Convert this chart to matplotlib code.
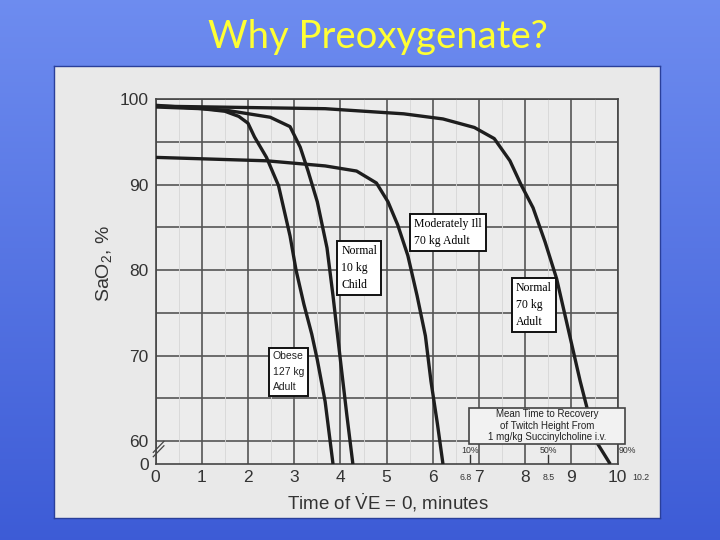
import matplotlib
matplotlib.use("Agg")
import matplotlib.pyplot as plt
from matplotlib.patches import Rectangle
import numpy as np

plt.rcParams['font.family'] = ['Liberation Sans', 'DejaVu Sans']
plt.rcParams['mathtext.fontset'] = 'custom'
plt.rcParams['mathtext.rm'] = 'Liberation Sans'
plt.rcParams['mathtext.it'] = 'Liberation Sans:italic'

# desaturation curves: time (min) vs SaO2 (%); 57.3 = bottom of broken axis ("0")
obese_t = [0, 1.0, 1.5, 1.8, 2.0, 2.14, 2.4, 2.66, 2.91, 3.04, 3.21, 3.38, 3.5, 3.67, 3.84]
obese_s = [99.1, 98.9, 98.6, 98.0, 97.2, 95.6, 93.2, 89.9, 84.0, 80.0, 76.0, 72.5, 69.5, 64.6, 57.3]

child_t = [0, 1.55, 2.48, 2.91, 3.13, 3.30, 3.5, 3.71, 3.84, 4.01, 4.14, 4.27]
child_s = [99.3, 98.7, 97.9, 96.8, 94.4, 91.6, 88.0, 82.6, 77.0, 69.0, 63.0, 57.3]

ill_t = [0, 2.40, 3.67, 4.35, 4.78, 5.03, 5.24, 5.46, 5.66, 5.84, 5.96, 6.10, 6.22]
ill_s = [93.2, 92.8, 92.2, 91.6, 90.2, 88.0, 85.3, 81.7, 77.0, 72.3, 67.0, 62.0, 57.3]

adult_t = [0, 3.67, 5.37, 6.22, 6.90, 7.33, 7.67, 7.91, 8.17, 8.43, 8.68, 8.85, 9.02, 9.19, 9.36, 9.53, 9.84]
adult_s = [99.2, 98.9, 98.3, 97.7, 96.7, 95.4, 92.8, 90.0, 87.3, 83.3, 79.0, 75.0, 71.0, 67.0, 63.4, 60.0, 57.3]

y_bottom = 57.3
ytick_vals = [y_bottom, 60, 70, 80, 90, 100]
ytick_labels = ['0', '60', '70', '80', '90', '100']
xtick_vals = list(range(0, 11))

# succinylcholine recovery percentiles
recov_pct = ['10%', '50%', '90%']
recov_time = [6.8, 8.5, 10.2]
recov_text = ['6.8', '8.5', '10.2']
recov_text_shift = [-0.08, 0.0, 0.3]

fig = plt.figure(figsize=(7.2, 5.4), dpi=100)

# slide background gradient
bg = fig.add_axes([0, 0, 1, 1], zorder=-10)
grad = np.linspace(0, 1, 256).reshape(-1, 1)
top_c = np.array([0.43, 0.55, 0.94])
bot_c = np.array([0.24, 0.36, 0.84])
img = top_c + (bot_c - top_c) * grad[:, :, None]
bg.imshow(img, aspect='auto', extent=[0, 1, 0, 1])
bg.axis('off')

fig.text(378 / 720, 1 - 37 / 540, 'Why Preoxygenate?', color='#ffff33',
         fontsize=27.5, family='Lato', ha='center', va='center')

# the scanned figure area
paper = fig.add_axes([54 / 720, 22 / 540, 606 / 720, 452 / 540], zorder=-5)
paper.set_facecolor('#e9e9e9')
paper.set_xticks([])
paper.set_yticks([])
for s in paper.spines.values():
    s.set_color('#2a3f9a')
    s.set_linewidth(1)

ax = fig.add_axes([155.6 / 720, 76 / 540, 462 / 720, 364.7 / 540])
ax.set_facecolor('#ececec')
ax.set_xlim(0, 10)
ax.set_ylim(y_bottom, 100)

ax.set_xticks(xtick_vals)
ax.set_xticks(np.arange(0, 10.01, 0.5), minor=True)
ax.set_yticks(ytick_vals)
ax.set_yticklabels(ytick_labels)
ax.tick_params(which='both', length=0)
ax.tick_params(axis='both', labelsize=12.5, labelcolor='#333333')
ax.tick_params(axis='y', pad=5)
ax.tick_params(axis='x', pad=4)

for v in np.arange(0, 10.01, 1):
    ax.axvline(v, color='#555555', lw=1.2, zorder=1)
for v in np.arange(60, 100.1, 5):
    ax.axhline(v, color='#555555', lw=1.2, zorder=1)
ax.grid(which='minor', axis='x', color='#d6d6d6', lw=0.6, zorder=0)
for s in ax.spines.values():
    s.set_color('#444444')
    s.set_linewidth(1.2)

curve_kw = dict(color='#1e1e1e', lw=2.4, solid_capstyle='butt', solid_joinstyle='round', zorder=3)
ax.plot(obese_t, obese_s, **curve_kw)
ax.plot(child_t, child_s, **curve_kw)
ax.plot(ill_t, ill_s, **curve_kw)
ax.plot(adult_t, adult_s, **curve_kw)

box_kw = dict(boxstyle='square,pad=0.35', fc='white', ec='#111111', lw=1.4)
ax.text(6.33, 84.4, 'Moderately Ill\n70 kg Adult', family='Liberation Serif',
        fontsize=8.5, ha='center', va='center', ma='left', linespacing=1.5,
        bbox=box_kw, zorder=5)
ax.text(4.41, 80.25, 'Normal\n10 kg\nChild', family='Liberation Serif',
        fontsize=8.5, ha='center', va='center', ma='left', linespacing=1.55,
        bbox=box_kw, zorder=5)
ax.text(8.19, 75.9, 'Normal\n70 kg\nAdult', family='Liberation Serif',
        fontsize=8.5, ha='center', va='center', ma='left', linespacing=1.55,
        bbox=box_kw, zorder=5)
ax.text(2.88, 68.1, 'Obese\n127 kg\nAdult', fontsize=7.5, color='#222222',
        ha='center', va='center', ma='left', linespacing=1.7,
        bbox=box_kw, zorder=5)

# recovery-time note box
ax.add_patch(Rectangle((6.78, 59.7), 3.38, 4.2, fc='#f2f2f2', ec='#444444', lw=1.2,
                       zorder=5, clip_on=False))
ax.text(8.47, 61.8, 'Mean Time to Recovery\nof Twitch Height From\n1 mg/kg Succinylcholine i.v.',
        fontsize=7, color='#222222', ha='center', va='center', linespacing=1.15,
        zorder=6, clip_on=False)

xform = ax.get_xaxis_transform()
for p, t, lab, dx in zip(recov_pct, recov_time, recov_text, recov_text_shift):
    ax.text(t, 58.85, p, fontsize=6.3, color='#333333', ha='center', va='center', clip_on=False)
    ax.plot([t, t], [y_bottom, 58.3], color='#333333', lw=1, zorder=2)
    ax.text(t + dx, -0.036, lab, transform=xform, fontsize=6.3, color='#333333',
            ha='center', va='center')

# axis break marks
for dy in (0.0, 0.012):
    ax.plot([-0.005, 0.018], [0.02 + dy, 0.05 + dy], transform=ax.transAxes,
            color='#444444', lw=0.9, clip_on=False, zorder=6)

ax.set_ylabel(r'SaO$_\mathrm{2}$, %', fontsize=14, color='#333333')
ax.yaxis.set_label_coords(-0.09, 0.55)
ax.set_xlabel(r'Time of $\dot{\mathrm{V}}$E = 0, minutes', fontsize=13.5, color='#333333')
ax.xaxis.set_label_coords(0.503, -0.074)

fig.savefig('out.png', dpi=100)
